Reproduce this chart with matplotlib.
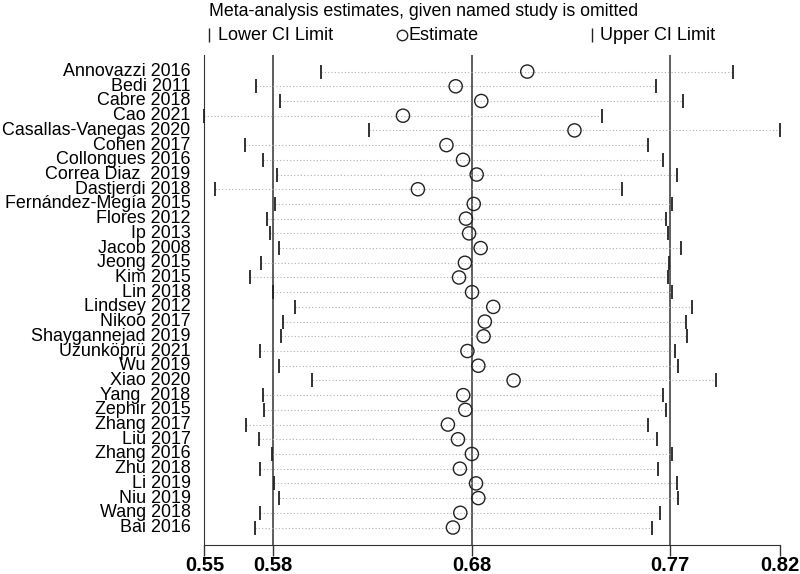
import matplotlib
matplotlib.use('Agg')
from matplotlib import pyplot as plt
from matplotlib.lines import Line2D

plt.rcParams['font.family'] = ['Liberation Sans', 'DejaVu Sans']

studies = ['Annovazzi 2016', 'Bedi 2011', 'Cabre 2018', 'Cao 2021',
           'Casallas-Vanegas 2020', 'Cohen 2017', 'Collongues 2016',
           'Correa Diaz  2019', 'Dastjerdi 2018', 'Fernández-Megía 2015',
           'Flores 2012', 'Ip 2013', 'Jacob 2008', 'Jeong 2015', 'Kim 2015',
           'Lin 2018', 'Lindsey 2012', 'Nikoo 2017', 'Shaygannejad 2019',
           'Uzunköprü 2021', 'Wu 2019', 'Xiao 2020', 'Yang  2018',
           'Zephir 2015', 'Zhang 2017', 'Liu 2017', 'Zhang 2016', 'Zhu 2018',
           'Li 2019', 'Niu 2019', 'Wang 2018', 'Bai 2016']

lower = [0.6061, 0.5748, 0.5863, 0.5504, 0.6288, 0.5696, 0.5782, 0.5848,
         0.5553, 0.5841, 0.5803, 0.5817, 0.5861, 0.5773, 0.5720, 0.5830,
         0.5934, 0.5879, 0.5868, 0.5771, 0.5859, 0.6015, 0.5782, 0.5788,
         0.5704, 0.5762, 0.5826, 0.5771, 0.5835, 0.5857, 0.5771, 0.5744]
estimate = [0.7042, 0.6701, 0.6823, 0.6450, 0.7267, 0.6657, 0.6736, 0.6801,
            0.6521, 0.6787, 0.6750, 0.6765, 0.6820, 0.6745, 0.6717, 0.6779,
            0.6880, 0.6840, 0.6834, 0.6757, 0.6809, 0.6977, 0.6737, 0.6747,
            0.6664, 0.6712, 0.6778, 0.6721, 0.6798, 0.6809, 0.6723, 0.6688]
upper = [0.8024, 0.7656, 0.7784, 0.7397, 0.8246, 0.7619, 0.7689, 0.7757,
         0.7491, 0.7733, 0.7702, 0.7714, 0.7773, 0.7716, 0.7711, 0.7733,
         0.7828, 0.7800, 0.7804, 0.7746, 0.7760, 0.7940, 0.7689, 0.7705,
         0.7619, 0.7661, 0.7731, 0.7665, 0.7757, 0.7760, 0.7676, 0.7634]

# pooled estimate and its CI (reference lines)
pooled = [0.583, 0.678, 0.772]
x_min, x_max = 0.5504, 0.8246
tick_labels = ['0.55', '0.58', '0.68', '0.77', '0.82']

fig = plt.figure(figsize=(8, 5.74), dpi=100)
ax = fig.add_axes([0.2555, 0.0505, 0.7195, 0.8535])

rows = list(range(len(studies)))
for v in pooled:
    ax.axvline(v, color='#333333', lw=1.1, zorder=1)
ax.hlines(rows, lower, upper, colors='#b0b0b0', linestyles=(0, (1, 2)),
          lw=0.8, zorder=2)
ax.scatter(lower, rows, marker='|', s=100, c='#222222', linewidths=1.3,
           zorder=3, clip_on=False)
ax.scatter(upper, rows, marker='|', s=100, c='#222222', linewidths=1.3,
           zorder=3, clip_on=False)
ax.scatter(estimate, rows, marker='o', s=90, facecolors='none',
           edgecolors='#222222', linewidths=1.0, zorder=4, clip_on=False)

ax.set_xlim(x_min, x_max)
ax.set_ylim(len(studies) - 1 + 1.19, -1.12)
ax.set_xticks([x_min] + pooled + [x_max])
ax.set_xticklabels(tick_labels, fontsize=14.5, fontweight='bold')
ax.set_yticks(rows)
ax.set_yticklabels(studies, fontsize=12.9)
ax.tick_params(axis='y', length=0, pad=10)
ax.tick_params(axis='x', length=8, width=1.0, color='#333333', pad=0)
for lbl in ax.get_yticklabels():
    lbl.set_verticalalignment('center')
ax.spines['top'].set_visible(False)
ax.spines['right'].set_visible(False)
ax.spines['left'].set_color('#333333')
ax.spines['bottom'].set_color('#333333')

fig.text(209 / 800, 1 - 11 / 574,
         'Meta-analysis estimates, given named study is omitted',
         fontsize=12.8, ha='left', va='center')
legend_y = 1 - 35 / 574
fig.add_artist(Line2D([209 / 800], [legend_y], marker='|', markersize=10,
                      color='#222222', mew=1.0, transform=fig.transFigure))
fig.text(218 / 800, legend_y, 'Lower CI Limit', fontsize=13,
         ha='left', va='center')
fig.add_artist(Line2D([402 / 800], [legend_y], marker='o', markersize=7.5,
                      mfc='white', mec='#222222', mew=1.0,
                      transform=fig.transFigure))
fig.text(409 / 800, legend_y, 'Estimate', fontsize=13,
         ha='left', va='center')
fig.add_artist(Line2D([592 / 800], [legend_y], marker='|', markersize=10,
                      color='#222222', mew=1.0, transform=fig.transFigure))
fig.text(600 / 800, legend_y, 'Upper CI Limit', fontsize=13,
         ha='left', va='center')

fig.savefig('out.png', dpi=100, facecolor='white')
